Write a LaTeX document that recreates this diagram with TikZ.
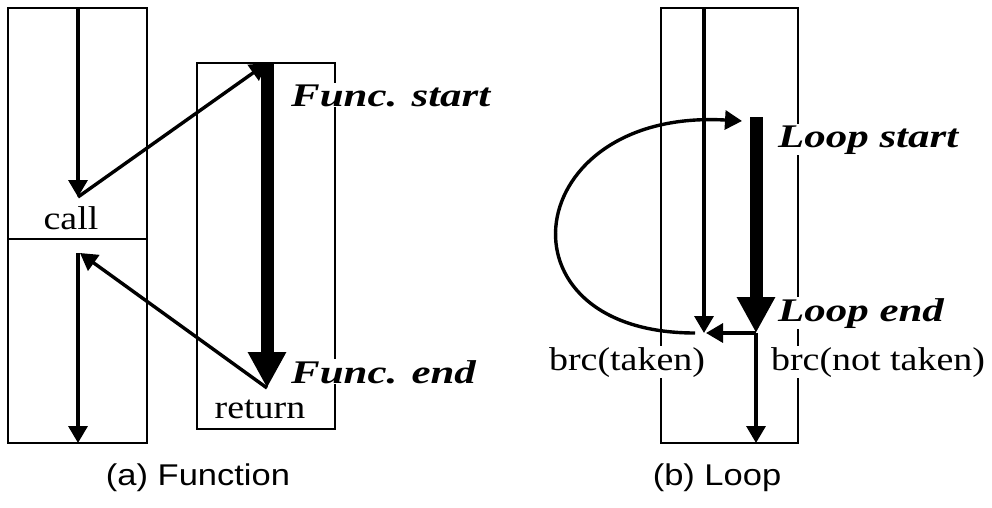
\documentclass[tikz,border=0pt]{standalone}
\usepackage{fontspec}
\usepackage{graphicx}
\setmainfont{Liberation Serif}
\newfontfamily\capfont{Liberation Sans}
\usetikzlibrary{arrows.meta}
\newcommand\hsA[1]{\scalebox{1.15}[1]{#1}}
\newcommand\hsB[1]{\scalebox{1.3}[1]{#1}}
\newcommand\hsC[1]{\scalebox{1.15}[1]{#1}}
\begin{document}
\begin{tikzpicture}[x=1pt,y=-1pt,
  box/.style={draw,line width=1.5pt},
  flow/.style={line width=3.4pt,-{Triangle[length=17pt,width=19pt]}},
  bigflow/.style={line width=13pt,-{Triangle[length=36pt,width=36pt]}},
  plainlbl/.style={font=\fontsize{33}{33}\selectfont,inner sep=1pt,fill=white,anchor=base},
  emlbl/.style={font=\fontsize{33}{33}\selectfont\bfseries\itshape,inner sep=1pt,fill=white,anchor=base west},
  caplbl/.style={font=\capfont\fontsize{30}{30}\selectfont,anchor=base}]
\useasboundingbox (0,0) rectangle (992,507);
% boxes
\draw[box] (8,8) rectangle (147,443);
\draw[box] (8,239) -- (147,239);
\draw[box] (197,63) rectangle (335,429);
\draw[box] (661,8) rectangle (798,443);
% labels
\node[emlbl] (fs) at (290,106) {\hsB{Func. start}};
\node[emlbl] (fe) at (290,383) {\hsB{Func. end}};
\node[emlbl] (lst) at (777,147) {\hsB{Loop start}};
\node[emlbl] (lend) at (777,321) {\hsB{Loop end}};
\node[plainlbl] (call) at (71,229) {\hsA{call}};
\node[plainlbl] (ret) at (260,418) {\hsA{return}};
\node[plainlbl] (bt) at (627,370) {\hsA{brc(taken)}};
\node[plainlbl] (bn) at (878,370) {\hsA{brc(not taken)}};
\node[caplbl] (capa) at (198,485) {\hsC{(a) Function}};
\node[caplbl] (capb) at (717,485) {\hsC{(b) Loop}};
% coordinates (a)
\coordinate (atop) at (78,8);
\coordinate (callpt) at (78,197);
\coordinate (fstart) at (267,63);
\coordinate (fend) at (267,388);
\coordinate (retpt) at (80,253);
\coordinate (lowtop) at (78,253);
\coordinate (abot) at (78,443);
% arrows (a)
\draw[flow] (atop) -- (callpt);
\draw[flow] (callpt) -- (fstart);
\draw[bigflow] (fstart) -- (fend);
\draw[flow] (fend) -- (retpt);
\draw[flow] (lowtop) -- (abot);
% coordinates (b)
\coordinate (btop) at (704,8);
\coordinate (brcpt) at (704,333);
\coordinate (lstart) at (756,117);
\coordinate (lendpt) at (756,333);
\coordinate (bbot) at (756,443);
\coordinate (backfrom) at (695,333);
\coordinate (backto) at (742,121);
\coordinate (brcside) at (706,333);
% arrows (b)
\draw[flow] (btop) -- (brcpt);
\draw[bigflow] (lstart) -- (lendpt);
\draw[flow] (lendpt) -- (brcside);
\draw[flow] (lendpt) -- (bbot);
\draw[flow] (backfrom) .. controls (490,333) and (520,108) .. (backto);
\end{tikzpicture}
\end{document}
